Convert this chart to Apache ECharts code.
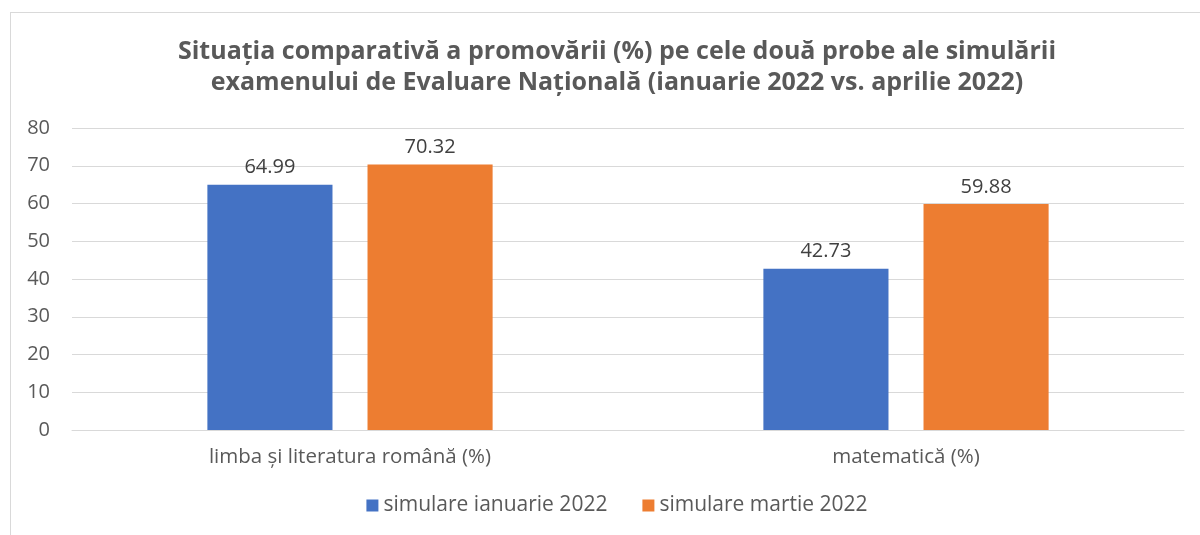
<!DOCTYPE html>
<html>
<head>
<meta charset="utf-8">
<script src="https://cdn.jsdelivr.net/npm/echarts@6/dist/echarts.min.js"></script>
<style>
  html, body { margin: 0; padding: 0; background: #fff; overflow: hidden; width: 1200px; height: 535px; }
  #chart { width: 1234px; height: 535px; }
  .frame {
    position: absolute; left: 10px; top: 12px; width: 1200px; height: 540px;
    border-left: 1px solid #d9d9d9; border-top: 1px solid #d9d9d9;
    pointer-events: none;
  }
</style>
</head>
<body>
<div id="chart"></div>
<div class="frame"></div>
<script>
const categories = ['limba și literatura română (%)', 'matematică (%)'];
const seriesNames = ['simulare ianuarie 2022', 'simulare martie 2022'];
const ianuarie = [64.99, 42.73];
const martie = [70.32, 59.88];
const titleText = 'Situația comparativă a promovării (%) pe cele două probe ale simulării\nexamenului de Evaluare Națională (ianuarie 2022 vs. aprilie 2022)';

const font = '"Open Sans", sans-serif';
const chart = echarts.init(document.getElementById('chart'));

const labelStyle = {
  show: true,
  position: 'top',
  distance: 7,
  fontFamily: font,
  fontSize: 20,
  color: '#404040'
};

chart.setOption({
  animation: false,
  color: ['#4472C4', '#ED7D31'],
  title: {
    text: titleText,
    left: 'center',
    top: 31,
    textStyle: {
      fontFamily: font,
      fontWeight: 'bold',
      fontSize: 25,
      lineHeight: 31,
      color: '#595959'
    }
  },
  legend: {
    bottom: 14,
    left: 'center',
    itemWidth: 12,
    itemHeight: 12,
    itemGap: 35,
    icon: 'rect',
    textStyle: { fontFamily: font, fontSize: 21, color: '#595959' },
    data: seriesNames
  },
  grid: { left: 72, right: 50, top: 128, bottom: 105 },
  xAxis: {
    type: 'category',
    data: categories,
    axisLine: { lineStyle: { color: '#d9d9d9', width: 1 } },
    axisTick: { show: false },
    axisLabel: { fontFamily: font, fontSize: 20.5, color: '#595959', margin: 17 }
  },
  yAxis: {
    type: 'value',
    min: 0,
    max: 80,
    interval: 10,
    axisLine: { show: false },
    axisTick: { show: false },
    axisLabel: { fontFamily: font, fontSize: 20, color: '#595959', margin: 22 },
    splitLine: { lineStyle: { color: '#d9d9d9', width: 1 } }
  },
  series: [
    {
      name: seriesNames[0],
      type: 'bar',
      data: ianuarie,
      barWidth: '22.5%',
      barGap: '28%',
      label: labelStyle
    },
    {
      name: seriesNames[1],
      type: 'bar',
      data: martie,
      barWidth: '22.5%',
      label: labelStyle
    }
  ]
});
</script>
</body>
</html>
